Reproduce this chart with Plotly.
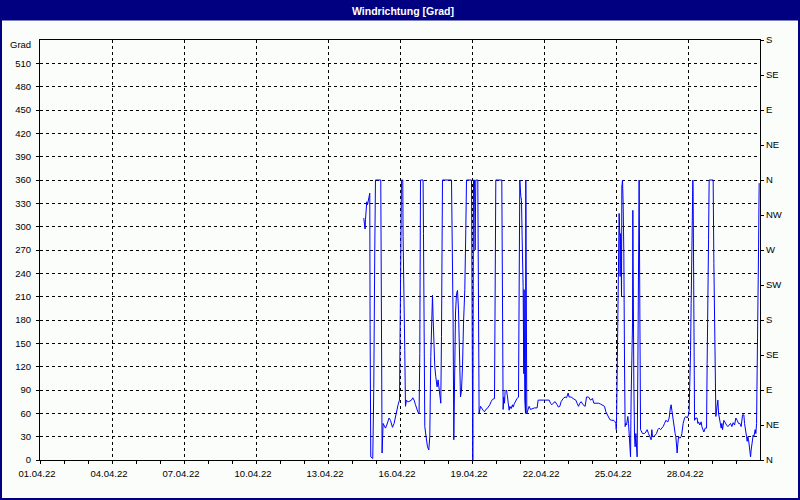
import numpy as np
import pandas as pd
import plotly.graph_objects as go

# ---- data: hours since 01.04.22 00:00 and wind direction in degrees ----
HOURS = [
    323.7, 324.4, 325.0, 325.4, 326.0, 326.7, 327.4, 328.0, 328.7, 329.7,
    330.0, 330.7, 332.7, 333.7, 334.7, 335.4, 340.7, 341.4, 342.0, 343.0,
    344.0, 345.4, 346.7, 348.0, 349.0, 350.4, 351.4, 352.4, 354.0, 355.4,
    356.7, 358.0, 359.4, 360.0, 361.4, 362.7, 363.0, 364.7, 365.4, 366.4,
    367.4, 368.7, 370.0, 371.4, 372.7, 374.0, 375.4, 376.7, 378.0, 379.0,
    379.7, 380.4, 383.0, 383.4, 384.0, 384.7, 386.0, 387.4, 388.7, 389.7,
    390.7, 391.7, 392.4, 393.0, 394.0, 394.7, 395.7, 397.0, 398.0, 399.0,
    400.0, 400.7, 401.4, 402.0, 402.4, 411.4, 412.0, 413.0, 413.7, 414.7,
    415.4, 416.4, 417.4, 418.4, 419.4, 420.4, 421.4, 422.4, 423.4, 424.7,
    425.7, 426.4, 431.4, 432.0, 432.7, 433.4, 434.4, 435.0, 435.7, 437.7,
    438.4, 439.0, 440.4, 441.7, 443.0, 444.4, 445.7, 447.0, 448.4, 449.7,
    451.0, 452.4, 454.4, 455.0, 455.7, 461.7, 462.4, 463.0, 463.7, 464.4,
    465.0, 466.4, 467.4, 468.4, 469.0, 469.7, 471.0, 472.4, 473.0, 474.4,
    475.7, 477.0, 478.4, 479.0, 479.7, 480.7, 481.4, 482.0, 483.0, 483.7,
    484.0, 484.7, 485.4, 485.7, 486.4, 486.7, 487.7, 489.0, 490.4, 491.7,
    494.4, 497.0, 498.0, 503.0, 507.0, 509.0, 510.4, 511.7, 513.0, 515.0,
    517.0, 518.4, 519.7, 521.0, 523.0, 525.0, 526.4, 528.0, 529.0, 531.0,
    533.0, 535.7, 537.0, 538.4, 539.7, 541.0, 543.0, 545.0, 546.4, 548.4,
    550.4, 552.4, 553.7, 558.4, 560.4, 562.4, 564.4, 565.7, 567.0, 568.4,
    569.7, 571.7, 573.7, 575.0, 575.7, 576.1, 576.4, 577.0, 577.7, 578.4,
    579.0, 579.7, 580.0, 580.4, 581.0, 581.4, 581.7, 582.4, 583.0, 583.7,
    584.4, 585.0, 585.7, 586.4, 587.0, 587.7, 588.4, 589.0, 589.7, 590.4,
    591.0, 591.7, 592.4, 592.7, 593.0, 593.7, 594.4, 595.0, 595.7, 596.4,
    597.0, 597.7, 598.4, 599.0, 599.7, 600.4, 602.4, 604.4, 605.7, 607.0,
    608.4, 609.7, 611.0, 611.7, 612.4, 613.7, 615.0, 616.4, 617.7, 619.0,
    620.4, 621.7, 623.0, 624.4, 625.7, 627.7, 629.0, 630.4, 631.0, 631.7,
    632.4, 633.7, 635.0, 635.7, 636.4, 637.0, 637.7, 638.4, 639.7, 641.0,
    641.7, 642.4, 643.0, 644.4, 645.7, 647.0, 648.4, 649.0, 649.7, 650.4,
    651.0, 651.7, 652.4, 652.7, 653.0, 653.7, 654.4, 655.7, 657.0, 657.7,
    658.4, 659.7, 661.0, 661.7, 663.0, 663.7, 665.0, 666.4, 667.0, 667.7,
    668.4, 669.0, 673.0, 673.7, 674.4, 675.0, 675.7, 676.4, 677.0, 677.7,
    678.4, 679.7, 681.0, 681.7, 682.4, 683.7, 685.0, 686.4, 687.7, 689.0,
    690.4, 691.7, 693.0, 694.4, 695.7, 697.0, 698.4, 699.7, 701.0, 702.4,
    703.7, 704.4, 705.0, 705.7, 706.4, 707.0, 707.7, 708.4, 709.0, 709.7,
    710.4, 711.0, 711.7, 712.4, 713.0, 713.7, 714.4, 715.0, 715.7, 716.4,
    717.0, 717.7, 718.4, 719.0,
]
DEGREES = [
    311, 304, 297, 309, 324, 332, 328, 332, 335, 343,
    174, 4, 2, 92, 270, 360, 360, 184, 9, 47,
    45, 41, 45, 49, 54, 51, 45, 42, 47, 56,
    66, 71, 77, 146, 360, 360, 287, 141, 69, 77,
    75, 75, 76, 77, 80, 77, 71, 65, 61, 60,
    137, 360, 360, 291, 135, 43, 30, 17, 13, 30,
    133, 184, 212, 184, 133, 120, 107, 94, 103, 94,
    81, 73, 159, 300, 360, 360, 309, 180, 26, 150,
    189, 214, 218, 193, 150, 81, 90, 120, 176, 219,
    296, 360, 360, 180, 0, 360, 360, 270, 360, 360,
    210, 60, 69, 66, 64, 62, 65, 66, 68, 71,
    75, 78, 79, 219, 360, 360, 210, 65, 81, 73,
    88, 90, 81, 73, 64, 69, 66, 71, 68, 73,
    77, 79, 81, 219, 360, 339, 334, 287, 223, 111,
    219, 77, 60, 360, 214, 60, 64, 69, 65, 66,
    67, 67, 77, 77, 77, 77, 73, 71, 73, 75,
    71, 68, 69, 75, 79, 81, 80, 86, 81, 81,
    79, 77, 73, 69, 73, 75, 71, 69, 81, 81,
    77, 79, 73, 73, 72, 70, 69, 62, 58, 55,
    52, 51, 51, 49, 47, 39, 47, 107, 223, 249,
    317, 287, 236, 291, 266, 210, 351, 360, 330, 266,
    120, 43, 47, 45, 54, 56, 47, 30, 17, 4,
    81, 116, 176, 321, 176, 99, 30, 17, 34, 9,
    4, 116, 270, 360, 193, 39, 34, 34, 36, 39,
    34, 30, 26, 39, 30, 30, 32, 34, 39, 41,
    39, 41, 43, 47, 51, 49, 54, 69, 71, 64,
    56, 47, 34, 30, 17, 9, 21, 30, 28, 30,
    34, 43, 47, 54, 56, 54, 58, 64, 90, 141,
    201, 283, 330, 360, 339, 56, 51, 54, 54, 47,
    49, 45, 49, 43, 39, 36, 41, 41, 124, 180,
    283, 360, 360, 253, 171, 129, 56, 64, 73, 77,
    60, 47, 41, 47, 39, 51, 47, 45, 43, 45,
    47, 43, 48, 45, 54, 51, 47, 47, 43, 58,
    58, 47, 43, 34, 30, 24, 30, 26, 21, 15,
    4, 13, 21, 26, 32, 30, 36, 39, 34, 47,
    116, 257, 274, 356,
]

Y_TICKS = list(range(0, 511, 30))
COMPASS_VALS = list(range(0, 541, 45))
COMPASS_TEXT = ["N", "NE", "E", "SE", "S", "SW", "W", "NW", "N", "NE", "E", "SE", "S"]
START = "2022-04-01"
END = "2022-04-30 23:50"

times = pd.Timestamp(START) + pd.to_timedelta(np.array(HOURS), unit="h")

NAVY = "#000080"
BG = "#FBFDFB"
FONT = "Liberation Sans"
DAY_MS = 86400000

fig = go.Figure()
fig.add_trace(go.Scatter(
    x=times, y=DEGREES, mode="lines",
    line=dict(color="#0000FF", width=1),
    showlegend=False, hoverinfo="x+y",
))
fig.add_trace(go.Scatter(x=[], y=[], yaxis="y2", showlegend=False, hoverinfo="skip"))

W, H = 800, 500
ML, MR, MT, MB = 40, 40, 40, 40
pw, ph = W - ML - MR, H - MT - MB

def px_x(p):
    return (p - ML) / pw

def px_y(p):
    return (H - MB - p) / ph

fig.update_layout(
    width=W, height=H,
    margin=dict(l=ML, r=MR, t=MT, b=MB, pad=0),
    paper_bgcolor=BG, plot_bgcolor=BG,
    font=dict(family=FONT, size=9.5, color="black"),
    xaxis=dict(
        type="date", range=[START, END],
        tick0=START, dtick=3 * DAY_MS, tickformat="%d.%m.%y",
        ticks="outside", ticklen=3, tickcolor="black", tickwidth=1,
        showgrid=True, gridcolor="black", gridwidth=1, griddash="3px,3px",
        showline=True, linecolor="black", linewidth=1, mirror=True,
        zeroline=False,
        minor=dict(dtick=DAY_MS, tick0=START, ticks="outside", ticklen=3,
                   tickcolor="black", showgrid=False),
        tickfont=dict(family=FONT, size=9.5, color="black"),
        ticklabelshift=-3, ticklabelstandoff=2,
    ),
    yaxis=dict(
        range=[0, 540], tickmode="array", tickvals=Y_TICKS,
        ticks="outside", ticklen=3, tickcolor="black",
        showgrid=True, gridcolor="black", gridwidth=1, griddash="3px,3px",
        showline=True, linecolor="black", linewidth=1, mirror=True,
        zeroline=False,
        tickfont=dict(family=FONT, size=9.5, color="black"),
        ticklabelstandoff=3,
    ),
    yaxis2=dict(
        range=[0, 540], overlaying="y", side="right",
        tickmode="array", tickvals=COMPASS_VALS, ticktext=COMPASS_TEXT,
        ticks="outside", ticklen=3, tickcolor="black",
        showgrid=False, showline=False, zeroline=False,
        tickfont=dict(family=FONT, size=9.5, color="black"),
    ),
    shapes=[
        dict(type="rect", xref="paper", yref="paper",
             x0=px_x(0), x1=px_x(W), y0=px_y(20.5), y1=px_y(0),
             fillcolor=NAVY, line=dict(width=0), layer="above"),
        dict(type="rect", xref="paper", yref="paper",
             x0=px_x(1), x1=px_x(W - 1), y0=px_y(H - 1), y1=px_y(1),
             fillcolor="rgba(0,0,0,0)", line=dict(color=NAVY, width=2), layer="above"),
    ],
    annotations=[
        dict(text="Windrichtung [Grad]", xref="paper", yref="paper",
             x=px_x(403), y=px_y(10.5), xanchor="center", yanchor="middle",
             showarrow=False,
             font=dict(family=FONT, size=10.5, color="white", weight="bold")),
        dict(text="Grad", xref="paper", yref="paper",
             x=px_x(33), y=px_y(44.5), xanchor="right", yanchor="middle",
             showarrow=False, font=dict(family=FONT, size=9.5, color="black")),
    ],
)

fig.write_html(
    "out.html",
    config={"displayModeBar": False},
    post_script="document.body.style.margin='0px';",
)
